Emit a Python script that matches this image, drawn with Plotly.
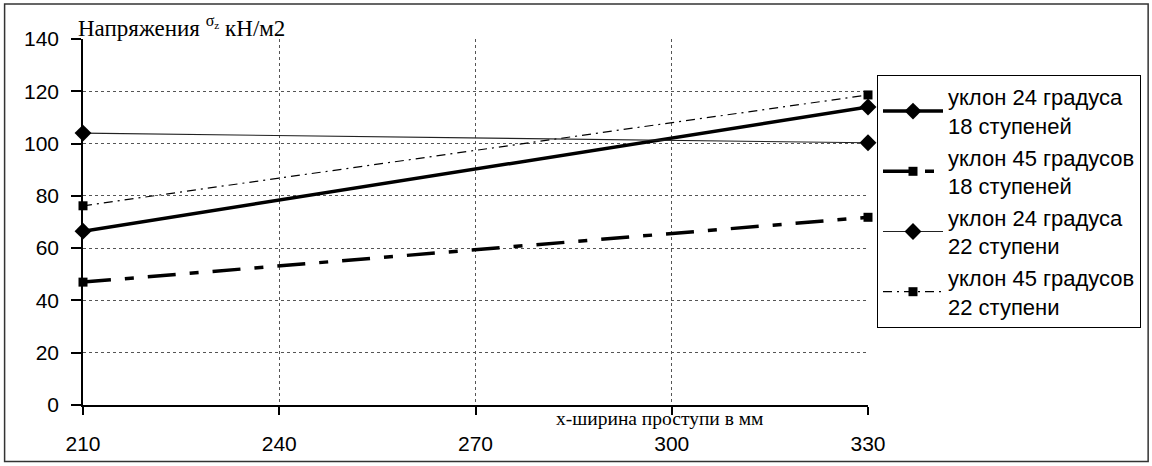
import plotly.graph_objects as go

# Ширина проступи, мм
width_mm = [210, 330]

# Напряжения σz, кН/м2
slope24_steps18 = [66.5, 114.0]
slope45_steps18 = [47.0, 71.8]
slope24_steps22 = [104.0, 100.3]
slope45_steps22 = [76.2, 118.6]

series_names = [
    "уклон 24 градуса<br>18 ступеней",
    "уклон 45 градусов<br>18 ступеней",
    "уклон 24 градуса<br>22 ступени",
    "уклон 45 градусов<br>22 ступени",
]

y_ticks = [0, 20, 40, 60, 80, 100, 120, 140]
x_ticks = [210, 240, 270, 300, 330]

L, R, T, B = 83, 283, 39, 61
W, H = 1152, 466
pw, ph = W - L - R, H - T - B


def px_x(p):
    return (p - L) / pw


def px_y(p):
    return (H - B - p) / ph


fig = go.Figure()

fig.add_trace(go.Scatter(
    x=width_mm, y=slope24_steps18, name=series_names[0], legendgroup="a",
    mode="lines+markers", cliponaxis=False,
    line=dict(color="black", width=3.5),
    marker=dict(symbol="diamond", size=13, color="black"),
))
fig.add_trace(go.Scatter(
    x=width_mm, y=slope45_steps18, name=series_names[1], legendgroup="b",
    mode="lines+markers", cliponaxis=False,
    line=dict(color="black", width=3.5, dash="28px,14px,9px,14px"),
    marker=dict(symbol="square", size=9, color="black"),
))
fig.add_trace(go.Scatter(
    x=width_mm, y=slope24_steps22, name=series_names[2], legendgroup="c",
    mode="lines+markers", cliponaxis=False,
    line=dict(color="#222222", width=1.1),
    marker=dict(symbol="diamond", size=13, color="black"),
))
fig.add_trace(go.Scatter(
    x=width_mm, y=slope45_steps22, name=series_names[3], legendgroup="d",
    mode="lines+markers", cliponaxis=False,
    line=dict(color="black", width=1.2, dash="9px,5px,2px,5px"),
    marker=dict(symbol="square", size=9, color="black"),
))

fig.update_layout(
    width=W, height=H,
    margin=dict(l=L, r=R, t=T, b=B),
    paper_bgcolor="white", plot_bgcolor="white",
    font=dict(family="Liberation Sans, Arial, sans-serif", size=21, color="black"),
    showlegend=True,
    legend=dict(
        x=px_x(877), y=px_y(75), xanchor="left", yanchor="top",
        bordercolor="black", borderwidth=1, bgcolor="white",
        font=dict(size=22), tracegroupgap=0,
        itemwidth=60,
    ),
    xaxis=dict(
        range=[210, 330], tickvals=x_ticks,
        showline=True, linecolor="black", linewidth=1.5,
        ticks="outside", ticklen=8, tickcolor="black", tickwidth=1.5,
        ticklabelstandoff=11,
        showgrid=True, gridcolor="#555555", griddash="dot", gridwidth=1,
        zeroline=False,
    ),
    yaxis=dict(
        range=[0, 140], tickvals=y_ticks,
        showline=True, linecolor="black", linewidth=1.5,
        ticks="outside", ticklen=10, tickcolor="black", tickwidth=1.5,
        ticklabelstandoff=8,
        showgrid=True, gridcolor="#555555", griddash="dot", gridwidth=1,
        zeroline=False,
    ),
    shapes=[dict(
        type="rect", xref="paper", yref="paper",
        x0=px_x(4.5), x1=px_x(1149.5), y0=px_y(461.5), y1=px_y(4),
        line=dict(color="#333333", width=1.5), layer="below",
    )],
    annotations=[
        dict(
            text="Напряжения <sup>σ<sub>z</sub></sup> кН/м2",
            xref="paper", yref="paper", x=px_x(76), y=px_y(43),
            xanchor="left", yanchor="bottom", showarrow=False,
            font=dict(family="Liberation Serif, Times New Roman, serif", size=23),
        ),
        dict(
            text="х-ширина проступи в мм",
            xref="paper", yref="paper", x=px_x(660), y=px_y(418),
            xanchor="center", yanchor="middle", showarrow=False,
            font=dict(family="Liberation Serif, Times New Roman, serif", size=19.5),
        ),
    ],
)

fig.write_html("out.html")
